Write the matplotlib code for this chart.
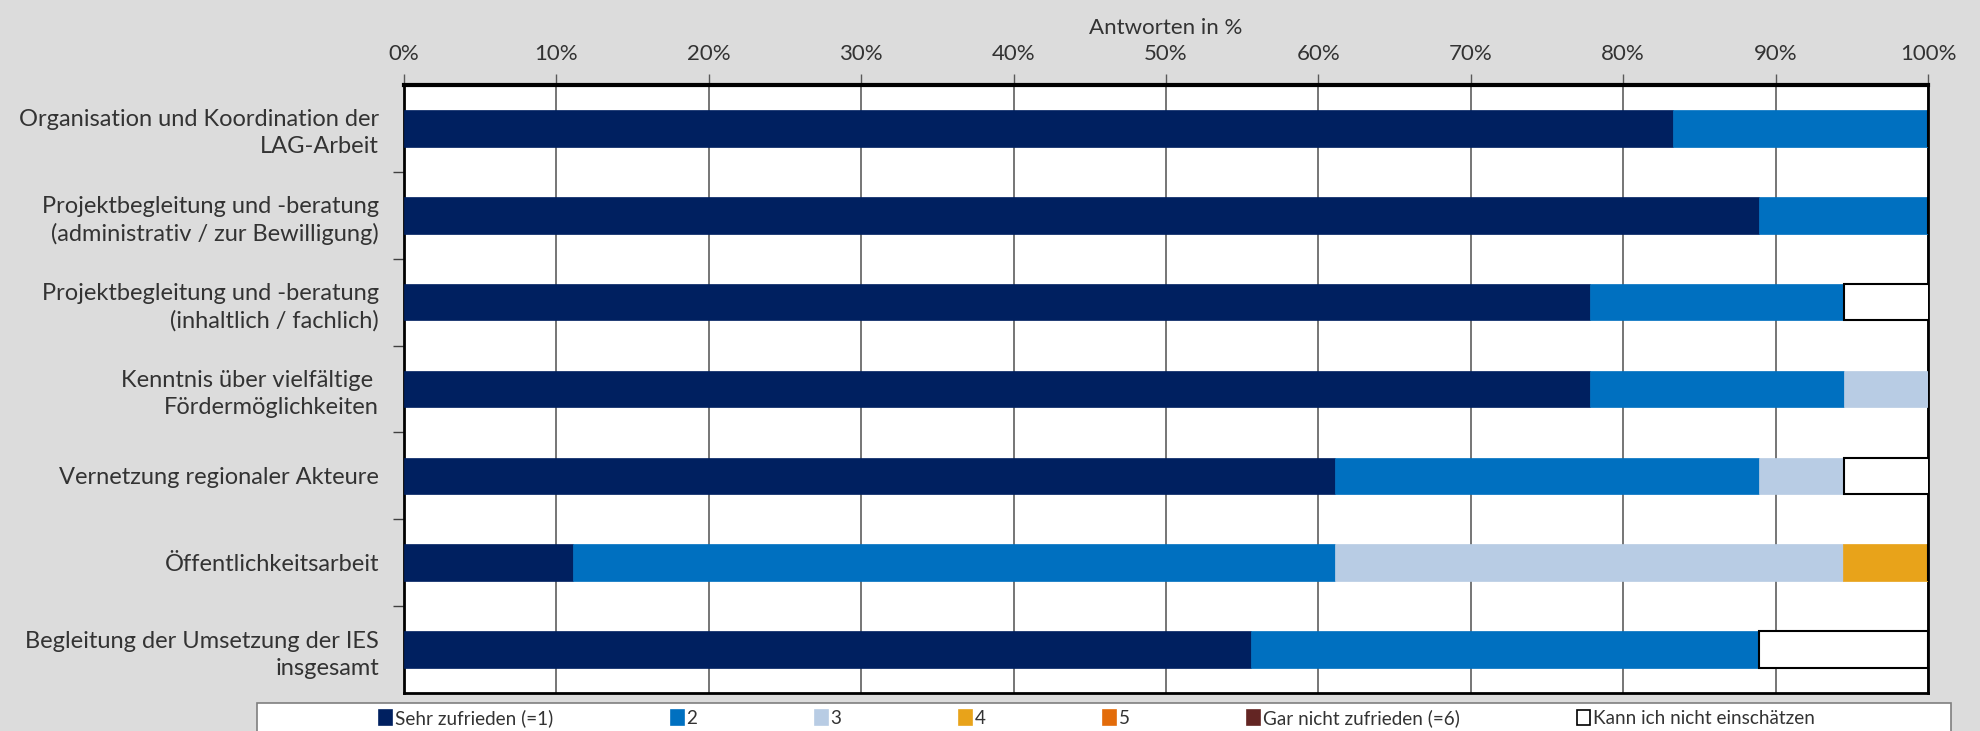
import matplotlib.pyplot as plt
import matplotlib.patches as mpatches
import numpy as np

plt.rcParams['font.family'] = ['Lato', 'DejaVu Sans']

# categories (top to bottom)
categories = [
    "Organisation und Koordination der\nLAG-Arbeit",
    "Projektbegleitung und -beratung\n(administrativ / zur Bewilligung)",
    "Projektbegleitung und -beratung\n(inhaltlich / fachlich)",
    "Kenntnis über vielfältige \nFördermöglichkeiten",
    "Vernetzung regionaler Akteure",
    "Öffentlichkeitsarbeit",
    "Begleitung der Umsetzung der IES\ninsgesamt",
]

series_names = ["Sehr zufrieden (=1)", "2", "3", "4", "5",
                "Gar nicht zufrieden (=6)", "Kann ich nicht einschätzen"]

# answers in % per category
sehr_zufrieden = [83.3, 88.9, 77.8, 77.8, 61.1, 11.1, 55.6]
note_2 = [16.7, 11.1, 16.7, 16.7, 27.8, 50.0, 33.3]
note_3 = [0.0, 0.0, 0.0, 5.6, 5.6, 33.3, 0.0]
note_4 = [0.0, 0.0, 0.0, 0.0, 0.0, 5.6, 0.0]
note_5 = [0.0, 0.0, 0.0, 0.0, 0.0, 0.0, 0.0]
gar_nicht = [0.0, 0.0, 0.0, 0.0, 0.0, 0.0, 0.0]
kann_nicht = [0.0, 0.0, 5.6, 0.0, 5.6, 0.0, 11.1]

all_series = [sehr_zufrieden, note_2, note_3, note_4, note_5, gar_nicht, kann_nicht]
colors = ["#002060", "#0070C0", "#B8CCE4", "#E8A31A", "#E36C0A", "#632523", "white"]

bg = "#DCDCDC"
txt = "#333333"
fig = plt.figure(figsize=(19.8, 7.31), dpi=100, facecolor=bg)
ax = fig.add_axes([404 / 1980, 1 - 693 / 731, (1928 - 404) / 1980, (693 - 85) / 731])
ax.set_facecolor("white")

y = np.arange(len(categories))
left = np.zeros(len(categories))
handles = []
for vals, col, name in zip(all_series, colors, series_names):
    vals = np.array(vals)
    if col == "white":
        ax.barh(y, vals, left=left, height=0.42, color=col,
                edgecolor="black", linewidth=1.5, zorder=3)
    else:
        ax.barh(y, vals, left=left, height=0.42, color=col,
                edgecolor=col, linewidth=0.5, zorder=3)
    left += vals
    handles.append(mpatches.Patch(facecolor=col,
                                  edgecolor="black" if col == "white" else col,
                                  linewidth=1.2, label=name))

ax.set_xlim(0, 100)
ax.set_ylim(len(categories) - 0.5, -0.5)

# x axis on top
ax.xaxis.tick_top()
ax.xaxis.set_label_position("top")
ax.set_xticks(np.arange(0, 101, 10))
ax.set_xticklabels([f"{v}%" for v in range(0, 101, 10)], fontsize=16, color=txt)
ax.set_xlabel("Antworten in %", fontsize=16, color=txt, labelpad=7)
ax.tick_params(axis="x", length=8, width=1, color="#595959", pad=7)
ax.grid(axis="x", color="#505050", linewidth=1.1, zorder=0)

# y axis: labels at bars, ticks at boundaries
ax.set_yticks(y)
ax.set_yticklabels(categories, fontsize=17, color=txt, linespacing=1.35)
ax.tick_params(axis="y", length=0, pad=18)
ax.set_yticks(np.arange(0.5, len(categories) - 0.5, 1), minor=True)
ax.tick_params(axis="y", which="minor", length=8, width=1, color="#404040")
for lbl in ax.get_yticklabels():
    lbl.set_horizontalalignment("right")

for side, lw in zip(["top", "right", "left", "bottom"], [3, 2, 2, 2]):
    ax.spines[side].set_linewidth(lw)
    ax.spines[side].set_color("black")

# legend box at bottom
fig.patches.append(mpatches.Rectangle((257 / 1980, 1 - 745 / 731), (1951 - 257) / 1980, 42 / 731,
                                      transform=fig.transFigure, facecolor="white",
                                      edgecolor="#7F7F7F", linewidth=1.2, zorder=0))
leg = fig.legend(handles=handles, loc="center", bbox_to_anchor=(1097 / 1980, 1 - 718 / 731),
                 ncol=7, frameon=False, fontsize=13.6, handlelength=0.7, handleheight=0.9,
                 handletextpad=0.15, columnspacing=6.2, borderaxespad=0)
for t in leg.get_texts():
    t.set_color(txt)

fig.savefig("out.png", dpi=100, facecolor=bg)
